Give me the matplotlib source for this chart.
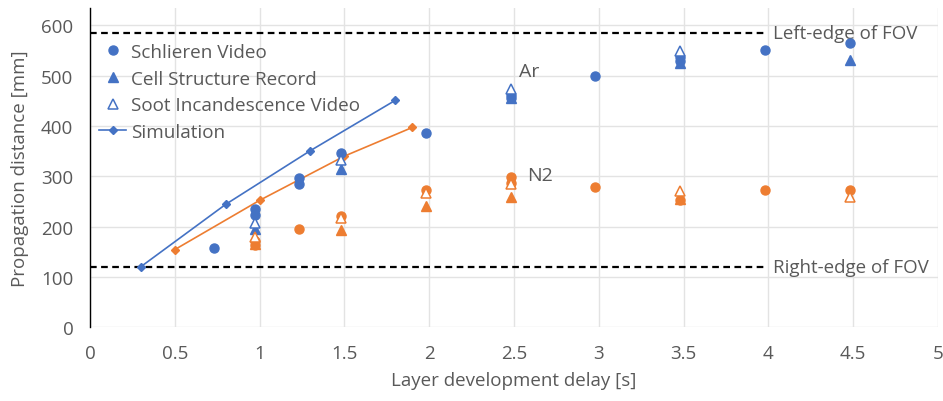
import matplotlib.pyplot as plt

blue = "#4472C4"
orange = "#ED7D31"
grey = "#595959"

# Ar (blue) measurements
ar_schlieren_x = [0.73, 0.975, 0.975, 1.23, 1.23, 1.48, 1.98, 2.48, 2.48, 2.98, 3.48, 3.48, 3.98, 4.48]
ar_schlieren_y = [157, 234, 222, 297, 284, 347, 386, 462, 456, 500, 537, 530, 551, 565]
ar_cell_x = [0.975, 1.48, 2.48, 3.48, 4.48]
ar_cell_y = [195, 315, 455, 525, 532]
ar_soot_x = [0.975, 1.48, 2.48, 3.48]
ar_soot_y = [207, 332, 474, 550]
ar_sim_x = [0.3, 0.8, 1.3, 1.8]
ar_sim_y = [120, 244, 351, 451]

# N2 (orange) measurements
n2_schlieren_x = [0.975, 0.975, 1.23, 1.48, 1.98, 2.48, 2.48, 2.98, 3.48, 3.98, 4.48]
n2_schlieren_y = [172, 163, 195, 220, 272, 298, 287, 278, 252, 272, 272]
n2_cell_x = [0.975, 1.48, 1.98, 2.48, 3.48]
n2_cell_y = [165, 194, 240, 259, 254]
n2_soot_x = [0.975, 1.48, 1.98, 2.48, 3.48, 4.48]
n2_soot_y = [180, 216, 267, 285, 270, 258]
n2_sim_x = [0.5, 1.0, 1.5, 1.9]
n2_sim_y = [154, 252, 340, 397]

fov_left = 585
fov_right = 120
fov_x = [0, 3.98]

plt.rcParams['font.family'] = ['Open Sans', 'DejaVu Sans']
fs = 13.5

fig = plt.figure(figsize=(9.43, 4.02), dpi=100)
ax = fig.add_axes([0.0954, 0.184, 0.8993, 0.794])

# FOV lines
ax.plot(fov_x, [fov_left, fov_left], color="black", linestyle=(0, (3, 2)), linewidth=1.6, zorder=2)
ax.plot(fov_x, [fov_right, fov_right], color="black", linestyle=(0, (3, 2)), linewidth=1.6, zorder=2)
ax.text(4.03, fov_left, "Left-edge of FOV", color=grey, fontsize=fs, va="center", ha="left")
ax.text(4.03, fov_right, "Right-edge of FOV", color=grey, fontsize=fs, va="center", ha="left")

# N2
ax.plot(n2_sim_x, n2_sim_y, color=orange, marker="D", markersize=4.5, linewidth=1.2, zorder=3)
ax.plot(n2_schlieren_x, n2_schlieren_y, "o", color=orange, markersize=6.5, zorder=4)
ax.plot(n2_cell_x, n2_cell_y, "^", color=orange, markersize=6.5, zorder=4)
ax.plot(n2_soot_x, n2_soot_y, "^", color=orange, markerfacecolor="white", markersize=7, markeredgewidth=1.1, zorder=5)

# Ar
ax.plot(ar_sim_x, ar_sim_y, color=blue, marker="D", markersize=4.5, linewidth=1.2, zorder=3, label="Simulation")
ax.plot(ar_schlieren_x, ar_schlieren_y, "o", color=blue, markersize=6.5, zorder=4, label="Schlieren Video")
ax.plot(ar_cell_x, ar_cell_y, "^", color=blue, markersize=6.5, zorder=4, label="Cell Structure Record")
ax.plot(ar_soot_x, ar_soot_y, "^", color=blue, markerfacecolor="white", markersize=7, markeredgewidth=1.1, zorder=5,
        label="Soot Incandescence Video")

ax.text(2.53, 510, "Ar", color=grey, fontsize=fs + 0.5, va="center", ha="left")
ax.text(2.58, 303, "N2", color=grey, fontsize=fs + 0.5, va="center", ha="left")

handles, labels = ax.get_legend_handles_labels()
order = [1, 2, 3, 0]
ax.legend([handles[i] for i in order], [labels[i] for i in order], loc="upper left",
          bbox_to_anchor=(0.0, 0.92), frameon=False, fontsize=13.6, labelcolor=grey,
          handlelength=1.4, handletextpad=0.25, labelspacing=0.46, borderaxespad=0.1)

ax.set_xlim(0, 5)
ax.set_ylim(0, 635)
ax.set_xticks([0, 0.5, 1, 1.5, 2, 2.5, 3, 3.5, 4, 4.5, 5])
ax.set_xticklabels(["0", "0.5", "1", "1.5", "2", "2.5", "3", "3.5", "4", "4.5", "5"])
ax.set_yticks([0, 100, 200, 300, 400, 500, 600])
ax.grid(True, color="#E3E3E3", linewidth=1.0, zorder=0)
ax.set_axisbelow(True)
for s in ["top", "right", "bottom"]:
    ax.spines[s].set_visible(False)
ax.spines["left"].set_color("black")
ax.spines["left"].set_linewidth(1.0)
ax.tick_params(axis="x", length=0, labelsize=fs, labelcolor=grey, pad=12)
ax.tick_params(axis="y", length=0, labelsize=fs, labelcolor=grey, pad=12)

ax.set_xlabel("Layer development delay [s]", color=grey, fontsize=fs, labelpad=7)
ax.set_ylabel("Propagation distance [mm]", color=grey, fontsize=fs, labelpad=9)

fig.savefig("out.png", dpi=100)
